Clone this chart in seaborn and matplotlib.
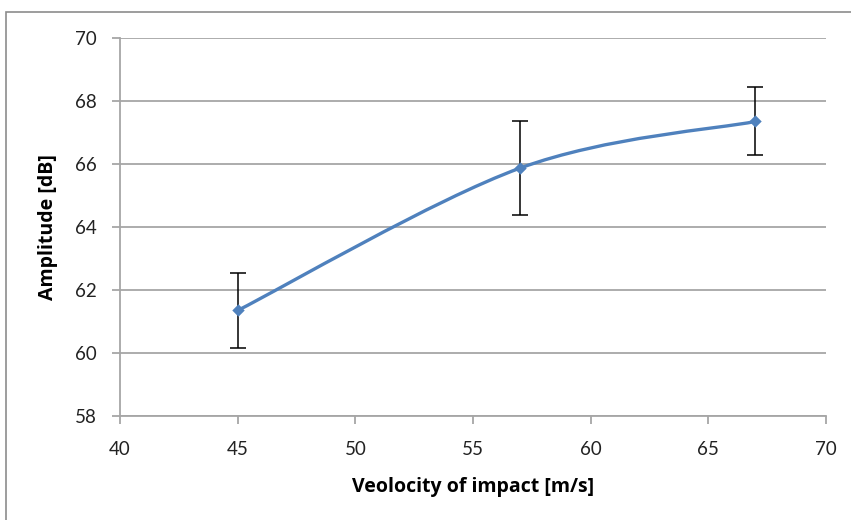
import numpy as np
import pandas as pd
import matplotlib
matplotlib.use("Agg")
import matplotlib.pyplot as plt
import seaborn as sns
from matplotlib.path import Path
from matplotlib.patches import PathPatch, Rectangle

# Data
velocity = [45, 57, 67]
amplitude = [61.35, 65.87, 67.35]
err_low = [60.15, 64.38, 66.27]
err_high = [62.53, 67.37, 68.44]
x_ticks = [40, 45, 50, 55, 60, 65, 70]
y_ticks = [58, 60, 62, 64, 66, 68, 70]

df = pd.DataFrame({"v": velocity, "a": amplitude})

sns.set_theme(style="white")
plt.rcParams['font.family'] = ['Lato', 'DejaVu Sans']

fig = plt.figure(figsize=(8.51, 5.2), dpi=100)
ax = fig.add_axes([120/851, 1-416/520, (826-120)/851, (416-38)/520])

line_color = "#4F81BD"
gray = "#A6A6A6"

# Smoothed line (Excel-style Bezier smoothing through data points)
pts = np.column_stack([velocity, amplitude]).astype(float)
n = len(pts)
verts = [pts[0]]
codes = [Path.MOVETO]
for i in range(n - 1):
    p0 = pts[i - 1] if i > 0 else pts[i]
    p1 = pts[i]
    p2 = pts[i + 1]
    p3 = pts[i + 2] if i + 2 < n else pts[i + 1]
    c1 = p1 + (p2 - p0) / 6.0
    c2 = p2 - (p3 - p1) / 6.0
    verts += [c1, c2, p2]
    codes += [Path.CURVE4] * 3
patch = PathPatch(Path(verts, codes), facecolor="none", edgecolor=line_color,
                  lw=2.4, zorder=3, capstyle="round")
ax.add_patch(patch)

# Error bars
yerr = [np.array(amplitude) - np.array(err_low), np.array(err_high) - np.array(amplitude)]
ax.errorbar(velocity, amplitude, yerr=yerr, fmt="none", ecolor="black",
            elinewidth=1.1, capsize=6, capthick=1.1, zorder=2)

# Markers
sns.scatterplot(data=df, x="v", y="a", marker="D", s=40, color=line_color,
                edgecolor=line_color, linewidth=0, zorder=4, ax=ax)

ax.set_xlim(40, 70)
ax.set_ylim(58, 70)
ax.set_xticks(x_ticks)
ax.set_yticks(y_ticks)
ax.set_xticklabels([str(t) for t in x_ticks])
ax.set_yticklabels([str(t) for t in y_ticks])

ax.yaxis.grid(True, color=gray, lw=1.3)
ax.xaxis.grid(False)
ax.set_axisbelow(True)

for s in ["top", "right"]:
    ax.spines[s].set_visible(False)
for s in ["left", "bottom"]:
    ax.spines[s].set_color(gray)
    ax.spines[s].set_linewidth(1.3)

ax.tick_params(axis="y", direction="out", length=6, width=1.3, color=gray,
               labelsize=13.5, labelcolor="#222222", pad=11, left=True)
ax.tick_params(axis="x", direction="out", length=6, width=1.3, color=gray,
               labelsize=13.5, labelcolor="#222222", pad=12, bottom=True)

lab_font = ['Open Sans', 'DejaVu Sans']
ax.set_xlabel("Veolocity of impact [m/s]", fontsize=14, fontweight="bold",
              color="black", family=lab_font, labelpad=14)
ax.set_ylabel("Amplitude [dB]", fontsize=14, fontweight="bold",
              color="black", family=lab_font, labelpad=12)

# Outer chart border
fig.patches.append(Rectangle((6/851, -0.05), 1.0, 1 - 12/520 + 0.05,
                             transform=fig.transFigure, fill=False,
                             edgecolor="#8C8C8C", lw=1.2, zorder=0))

fig.savefig("out.png", dpi=100)
